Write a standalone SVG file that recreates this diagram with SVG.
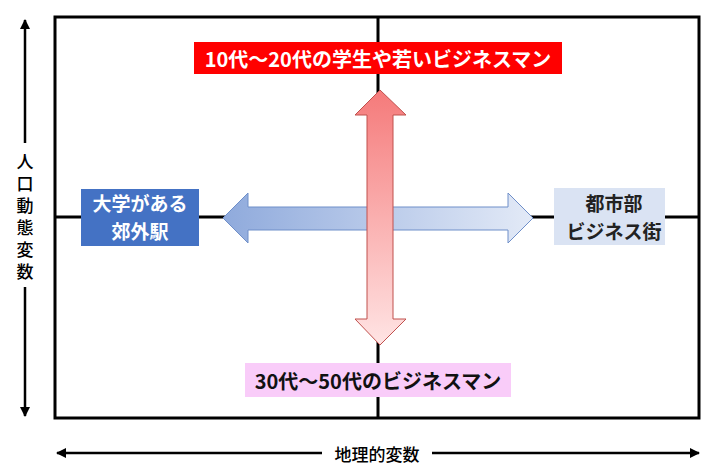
<svg xmlns="http://www.w3.org/2000/svg" width="720" height="471" viewBox="0 0 720 471">
<style>
.t{font-family:"Noto Sans CJK JP","Noto Sans",sans-serif;font-weight:bold;text-anchor:middle;dominant-baseline:central}
.ax{font-family:"Noto Sans CJK JP","Noto Sans",sans-serif;font-weight:500;font-size:17px;text-anchor:middle;dominant-baseline:central;fill:#000}
.ln{stroke:#000;stroke-width:3;fill:none}
.axl{stroke:#000;stroke-width:2.5;fill:none}
</style>
<defs>
<linearGradient id="gb" x1="0" y1="0" x2="1" y2="0">
<stop offset="0" stop-color="#8FAADC"/>
<stop offset="1" stop-color="#E3EAF7"/>
</linearGradient>
<linearGradient id="gr" x1="0" y1="0" x2="0" y2="1">
<stop offset="0" stop-color="#F57A7A"/>
<stop offset="1" stop-color="#FFE4E4"/>
</linearGradient>
<marker id="ah" viewBox="0 0 10 10" refX="9" refY="5" markerWidth="4" markerHeight="4" orient="auto-start-reverse">
<path d="M0,0 L10,5 L0,10 Z" fill="#000"/>
</marker>
</defs>
<rect x="0" y="0" width="720" height="471" fill="#fff"/>
<g id="frame">
<rect x="55" y="17" width="644" height="401" class="ln"/>
<line x1="378" y1="17" x2="378" y2="418" class="ln"/>
<line x1="55" y1="217" x2="699" y2="217" class="ln"/>
</g>
<g id="connectors">
<path d="M223,218 L248,193 L248,207 L508,207 L508,193 L533,218 L508,243 L508,230 L248,230 L248,243 Z" fill="url(#gb)" stroke="#6F8FC9" stroke-width="1"/>
<path d="M380,90 L406,115 L393,115 L393,319 L406,319 L380,345 L355,319 L367,319 L367,115 L355,115 Z" fill="url(#gr)" stroke="#C0504D" stroke-width="1"/>
<line x1="25" y1="143" x2="25" y2="20" class="axl" marker-end="url(#ah)"/>
<line x1="25" y1="287" x2="25" y2="416" class="axl" marker-end="url(#ah)"/>
<line x1="322" y1="453" x2="57" y2="453" class="axl" marker-end="url(#ah)"/>
<line x1="432" y1="453" x2="699" y2="453" class="axl" marker-end="url(#ah)"/>
</g>
<g id="top">
<rect x="194" y="42" width="368" height="32" fill="#FF0000"/>
<text x="378" y="58" class="t" font-size="20" fill="#fff">10代～20代の学生や若いビジネスマン</text>
</g>
<g id="bottom">
<rect x="245" y="363" width="266" height="34" fill="#F9CCF9"/>
<text x="378" y="380" class="t" font-size="20" fill="#111">30代～50代のビジネスマン</text>
</g>
<g id="left">
<rect x="81" y="189" width="118" height="57" fill="#4472C4"/>
<text x="140" y="202" class="t" font-size="19" fill="#fff">大学がある</text>
<text x="140" y="230" class="t" font-size="19" fill="#fff">郊外駅</text>
</g>
<g id="right">
<rect x="554" y="188" width="111" height="57" fill="#DAE3F3"/>
<text x="614" y="202" class="t" font-size="19" fill="#222">都市部</text>
<text x="614" y="230" class="t" font-size="19" fill="#222">ビジネス街</text>
</g>
<g id="yaxis">
<text x="25" y="219" class="ax" writing-mode="vertical-rl" letter-spacing="5">人口動態変数</text>
</g>
<g id="xaxis">
<text x="377" y="453" class="ax">地理的変数</text>
</g>
</svg>
